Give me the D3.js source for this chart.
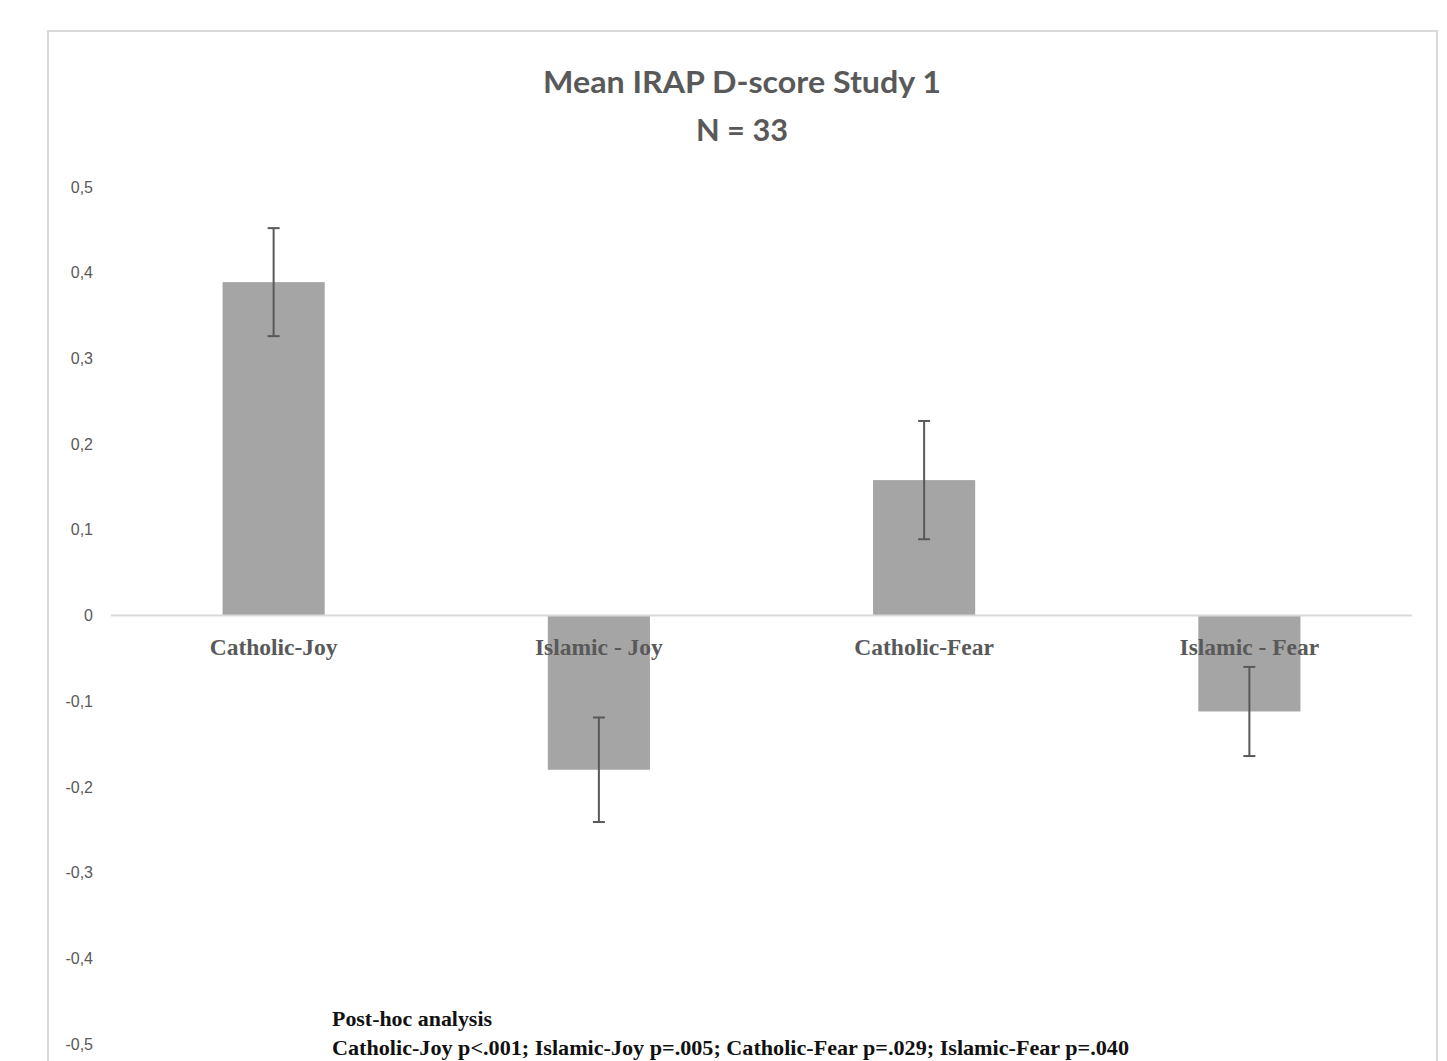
<!DOCTYPE html>
<html><head><meta charset="utf-8">
<script src="https://cdn.jsdelivr.net/npm/d3@7"></script>
<style>html,body{margin:0;padding:0;background:#fff;}svg{display:block;}</style>
</head><body>
<script>
const categories = ["Catholic-Joy", "Islamic - Joy", "Catholic-Fear", "Islamic - Fear"];
const means = [0.389, -0.180, 0.158, -0.112];
const errors = [0.063, 0.061, 0.069, 0.052];
const yTicks = [0.5, 0.4, 0.3, 0.2, 0.1, 0, -0.1, -0.2, -0.3, -0.4, -0.5];
const titleLines = ["Mean IRAP D-score Study 1", "N = 33"];
const noteLines = ["Post-hoc analysis", "Catholic-Joy p<.001; Islamic-Joy p=.005; Catholic-Fear p=.029; Islamic-Fear p=.040"];

const W = 1447, H = 1061;
const svg = d3.select("body").append("svg").attr("width", W).attr("height", H);

// chart frame
svg.append("rect").attr("x", 48).attr("y", 31).attr("width", 1389).attr("height", 1100)
  .attr("fill", "#fff").attr("stroke", "#d9d9d9").attr("stroke-width", 2);

const x = d3.scaleBand().domain(categories).range([111, 1412]).paddingInner(0.686).paddingOuter(0.343);
const y = d3.scaleLinear().domain([-0.5, 0.5]).range([1044, 187]);

// title
svg.append("g").selectAll("text").data(titleLines).join("text")
  .attr("x", 742).attr("y", (d, i) => 93 + i * 48)
  .attr("text-anchor", "middle")
  .attr("font-family", "Lato, 'Open Sans', sans-serif").attr("font-weight", "bold")
  .attr("font-size", 30).attr("fill", "#595959")
  .attr("textLength", (d, i) => i === 0 ? 398 : 92).attr("lengthAdjust", "spacingAndGlyphs")
  .text(d => d);

// y axis labels
const yAxis = d3.axisLeft(y).tickValues(yTicks).tickSize(0).tickPadding(0)
  .tickFormat(d => d3.format(".1f")(d).replace(".", ",").replace("0,0", "0").replace("−", "-"));
const gy = svg.append("g").attr("transform", "translate(93,0)").call(yAxis);
gy.select(".domain").remove();
gy.selectAll("text").attr("font-family", "'Liberation Sans', Arial, sans-serif")
  .attr("font-size", 16).attr("fill", "#595959").attr("dy", "0.32em");

// bars
svg.append("g").selectAll("rect").data(categories).join("rect")
  .attr("x", d => x(d))
  .attr("width", x.bandwidth())
  .attr("y", (d, i) => y(Math.max(0, means[i])))
  .attr("height", (d, i) => Math.abs(y(means[i]) - y(0)))
  .attr("fill", "#a5a5a5");

// zero line
svg.append("line").attr("x1", 111).attr("x2", 1412).attr("y1", y(0)).attr("y2", y(0))
  .attr("stroke", "#d9d9d9").attr("stroke-width", 2);

// category labels
svg.append("g").selectAll("text").data(categories).join("text")
  .attr("x", d => x(d) + x.bandwidth() / 2).attr("y", 655)
  .attr("text-anchor", "middle")
  .attr("font-family", "'Liberation Serif', 'Times New Roman', serif").attr("font-weight", "bold")
  .attr("font-size", 23.5).attr("fill", "#595959")
  .text(d => d);

// error bars
const eg = svg.append("g").attr("stroke", "#595959").attr("stroke-width", 2);
categories.forEach((c, i) => {
  const cx = x(c) + x.bandwidth() / 2;
  const hi = y(means[i] + errors[i]), lo = y(means[i] - errors[i]);
  eg.append("line").attr("x1", cx).attr("x2", cx).attr("y1", hi).attr("y2", lo);
  eg.append("line").attr("x1", cx - 6).attr("x2", cx + 6).attr("y1", hi).attr("y2", hi);
  eg.append("line").attr("x1", cx - 6).attr("x2", cx + 6).attr("y1", lo).attr("y2", lo);
});

// post-hoc note
svg.append("g").selectAll("text").data(noteLines).join("text")
  .attr("x", 332).attr("y", (d, i) => 1026 + i * 29)
  .attr("font-family", "'Liberation Serif', 'Times New Roman', serif").attr("font-weight", "bold")
  .attr("font-size", 22).attr("fill", "#111")
  .attr("textLength", (d, i) => i === 0 ? 160 : 797).attr("lengthAdjust", "spacingAndGlyphs")
  .text(d => d);
</script>
</body></html>
